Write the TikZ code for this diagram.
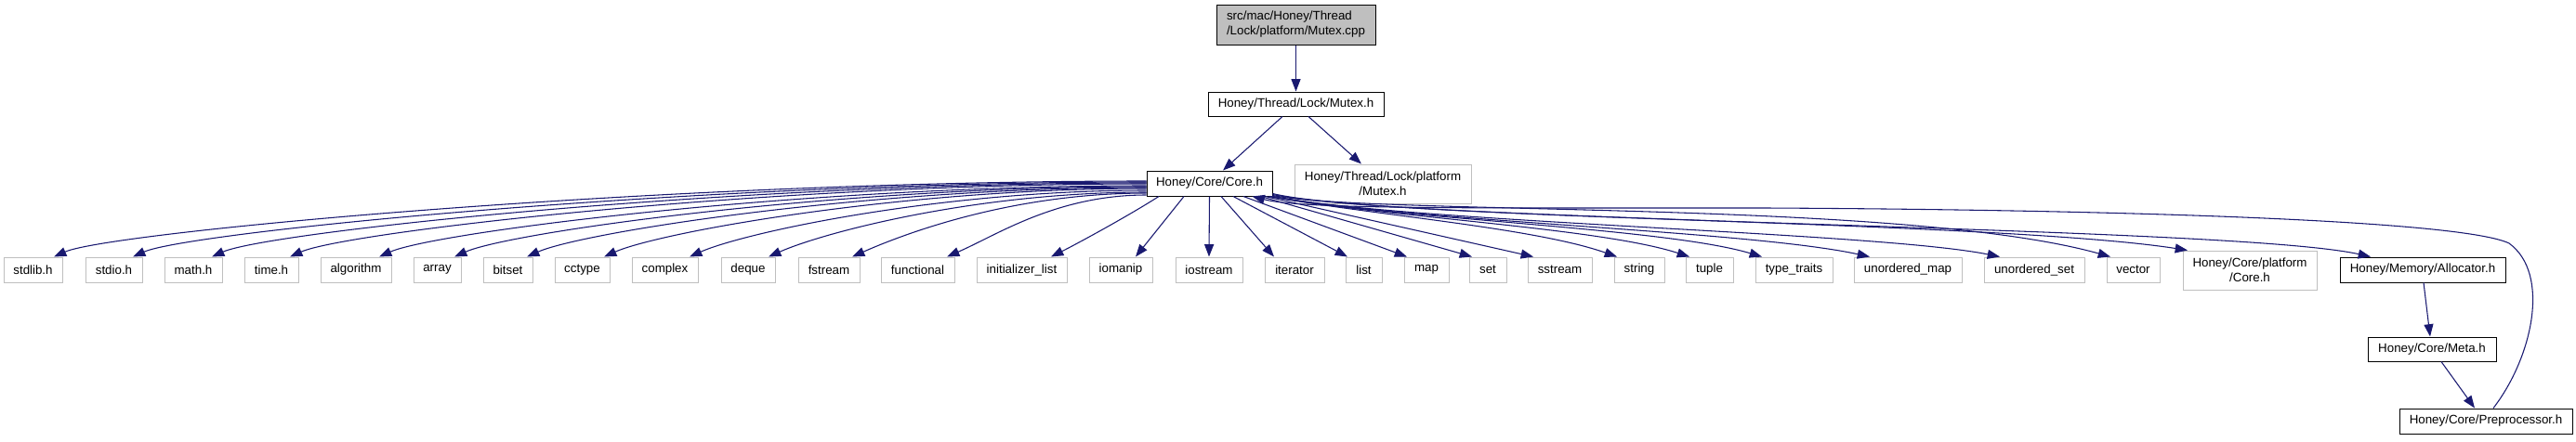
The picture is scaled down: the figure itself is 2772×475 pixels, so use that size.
\documentclass[tikz,border=0pt]{standalone}
\usepackage{fontspec}
\setmainfont{Liberation Sans}
\usetikzlibrary{arrows.meta}
\definecolor{edgeblue}{HTML}{191970}
\definecolor{boxgray}{HTML}{BFBFBF}
\begin{document}
\begin{tikzpicture}[x=0.75pt,y=-0.75pt,
  font=\fontsize{10}{12}\selectfont,
  box/.style={draw=black, line width=0.75pt, inner sep=0pt, align=center},
  gbox/.style={draw=boxgray, line width=0.75pt, inner sep=0pt, align=center},
  sz/.style 2 args={minimum width=#1*0.75pt, minimum height=#2*0.75pt},
  edge/.style={draw=edgeblue, line width=0.8pt, -{Triangle[length=10pt,width=7.5pt]}},
  backedge/.style={draw=edgeblue, line width=0.8pt, {Triangle[length=10pt,width=7.5pt]}-}]
\useasboundingbox (0,0) rectangle (2772,475);

% nodes
\node[box, fill=boxgray, sz={171}{43}, align=left] (cpp) at (1394.5,26.5) {src/mac/Honey/Thread\\/Lock/platform/Mutex.cpp};
\node[box, sz={189}{26}] (mutexh) at (1394.5,112) {Honey/Thread/Lock/Mutex.h};
\node[box, sz={135}{27}] (core) at (1301.5,197.5) {Honey/Core/Core.h};
\node[gbox, sz={190}{42}] (mplat) at (1488,198) {Honey/Thread/Lock/platform\\/Mutex.h};

\node[gbox, sz={63}{27}] (stdlib) at (35.5,290.5) {stdlib.h};
\node[gbox, sz={61}{27}] (stdio) at (122.5,290.5) {stdio.h};
\node[gbox, sz={62}{27}] (math) at (208,290.5) {math.h};
\node[gbox, sz={58}{27}] (time) at (292,290.5) {time.h};
\node[gbox, sz={76}{27}] (algorithm) at (383,290.5) {algorithm};
\node[gbox, sz={51}{27}] (array) at (470.5,290.5) {array};
\node[gbox, sz={53}{27}] (bitset) at (546.5,290.5) {bitset};
\node[gbox, sz={59}{27}] (cctype) at (626.5,290.5) {cctype};
\node[gbox, sz={71}{27}] (complex) at (715.5,290.5) {complex};
\node[gbox, sz={58}{27}] (deque) at (805,290.5) {deque};
\node[gbox, sz={66}{27}] (fstream) at (892,290.5) {fstream};
\node[gbox, sz={79}{27}] (functional) at (987.5,290.5) {functional};
\node[gbox, sz={97}{27}] (initlist) at (1099.5,290.5) {initializer\_list};
\node[gbox, sz={68}{27}] (iomanip) at (1206,290.5) {iomanip};
\node[gbox, sz={72}{27}] (iostream) at (1301,290.5) {iostream};
\node[gbox, sz={64}{27}] (iterator) at (1393,290.5) {iterator};
\node[gbox, sz={39}{27}] (list) at (1467.5,290.5) {list};
\node[gbox, sz={48}{27}] (map) at (1535,290.5) {map};
\node[gbox, sz={40}{27}] (set) at (1601,290.5) {set};
\node[gbox, sz={69}{27}] (sstream) at (1678.5,290.5) {sstream};
\node[gbox, sz={54}{27}] (string) at (1764,290.5) {string};
\node[gbox, sz={51}{27}] (tuple) at (1839.5,290.5) {tuple};
\node[gbox, sz={83}{27}] (typetraits) at (1930.5,290.5) {type\_traits};
\node[gbox, sz={116}{27}] (umap) at (2053,290.5) {unordered\_map};
\node[gbox, sz={108}{27}] (uset) at (2189,290.5) {unordered\_set};
\node[gbox, sz={57}{27}] (vector) at (2295.5,290.5) {vector};
\node[gbox, sz={144}{42}] (coreplat) at (2421,291) {Honey/Core/platform\\/Core.h};
\node[box, sz={178}{27}] (alloc) at (2607,290.5) {Honey/Memory/Allocator.h};
\node[box, sz={138}{26}] (meta) at (2617,376) {Honey/Core/Meta.h};
\node[box, sz={186}{27}] (prep) at (2675,453.5) {Honey/Core/Preprocessor.h};

% top edges
\draw[edge] (cpp) -- (mutexh);
\draw[edge] ([shift={(-14.5,0)}]mutexh.south) -- ([shift={(14.5,0)}]core.north);
\draw[edge] ([shift={(13.5,0)}]mutexh.south) -- ([shift={(-23,0)}]mplat.north);

% left edges
\draw[edge] ([shift={(0,-2.5)}]core.west) .. controls (705,195) and (118,250) .. ([shift={(22.5,0)}]stdlib.north);
\draw[edge] ([shift={(0,-1.5)}]core.west) .. controls (743,196) and (203,250) .. ([shift={(20.5,0)}]stdio.north);
\draw[edge] ([shift={(0,-0.5)}]core.west) .. controls (781,197) and (288,250) .. ([shift={(20,0)}]math.north);
\draw[edge] ([shift={(0,0.5)}]core.west) .. controls (819,198) and (372,250) .. ([shift={(20,0)}]time.north);
\draw[edge] ([shift={(0,2.5)}]core.west) .. controls (862,200) and (468,250) .. ([shift={(25,0)}]algorithm.north);
\draw[edge] ([shift={(0,3.5)}]core.west) .. controls (899,201) and (549,250) .. ([shift={(18.5,0)}]array.north);
\draw[edge] ([shift={(0,4.5)}]core.west) .. controls (934,202) and (627,250) .. ([shift={(20.5,0)}]bitset.north);
\draw[edge] ([shift={(0,5.5)}]core.west) .. controls (971,203) and (710,250) .. ([shift={(23.5,0)}]cctype.north);
\draw[edge] ([shift={(0,7.5)}]core.west) .. controls (1013,205) and (802,250) .. ([shift={(26.5,0)}]complex.north);
\draw[edge] ([shift={(0,9.5)}]core.west) .. controls (1051,207) and (887,250) .. ([shift={(22,0)}]deque.north);
\draw[edge] ([shift={(0,10.5)}]core.west) .. controls (1091,208) and (977,250) .. ([shift={(25,0)}]fstream.north);
\draw[edge] ([shift={(0,12.5)}]core.west) .. controls (1137,210) and (1073,253) .. ([shift={(31.5,0)}]functional.north);

% bottom edges
\draw[edge] ([shift={(-54.5,0)}]core.south) .. controls (1215,232) and (1160,262) .. ([shift={(31.5,0)}]initlist.north);
\draw[edge] ([shift={(-27.5,0)}]core.south) -- ([shift={(16,0)}]iomanip.north);
\draw[edge] (core.south) -- (iostream.north);
\draw[edge] ([shift={(12.5,0)}]core.south) -- ([shift={(-22,0)}]iterator.north);
\draw[edge] ([shift={(25.5,0)}]core.south) -- ([shift={(-17.5,0)}]list.north);
\draw[edge] ([shift={(36.5,0)}]core.south) -- ([shift={(-21,0)}]map.north);
\draw[edge] ([shift={(55,0)}]core.south) -- ([shift={(-17,0)}]set.north);
\draw[edge] ([shift={(60,0)}]core.south) -- ([shift={(-28.5,0)}]sstream.north);

% right edges
\draw[edge] ([shift={(-4,0)}]core.south east) .. controls (1480,232) and (1650,245) .. ([shift={(-24,0)}]string.north);
\draw[edge] ([shift={(-3,0)}]core.south east) .. controls (1490,234) and (1720,245) .. ([shift={(-21.5,0)}]tuple.north);
\draw[edge] ([shift={(-2,0)}]core.south east) .. controls (1500,236) and (1790,245) .. ([shift={(-34.5,0)}]typetraits.north);
\draw[edge] ([shift={(-1,0)}]core.south east) .. controls (1510,238) and (1880,248) .. ([shift={(-41,0)}]umap.north);
\draw[edge] (core.south east) .. controls (1520,240) and (2020,250) .. ([shift={(-37,0)}]uset.north);
\draw[edge] ([shift={(0,-1)}]core.south east) .. controls (1480,232) and (2050,215) .. ([shift={(-24.5,0)}]vector.north);
\draw[edge] ([shift={(0,-2)}]core.south east) .. controls (1500,236) and (2150,238) .. ([shift={(-67,0)}]coreplat.north);
\draw[edge] ([shift={(0,-3)}]core.south east) .. controls (1500,240) and (2400,243) .. ([shift={(-56,0)}]alloc.north);

% lower chain
\draw[edge] ([shift={(1,0)}]alloc.south) -- ([shift={(-2,0)}]meta.north);
\draw[edge] ([shift={(10,0)}]meta.south) -- ([shift={(-12,0)}]prep.north);
\draw[backedge] ([shift={(46,0)}]core.south) .. controls (1400,225) and (1550,224) .. (1900,224)
  .. controls (2300,226) and (2650,238) .. (2700,262)
  .. controls (2745,295) and (2725,385) .. ([shift={(8,0)}]prep.north);
\end{tikzpicture}
\end{document}
